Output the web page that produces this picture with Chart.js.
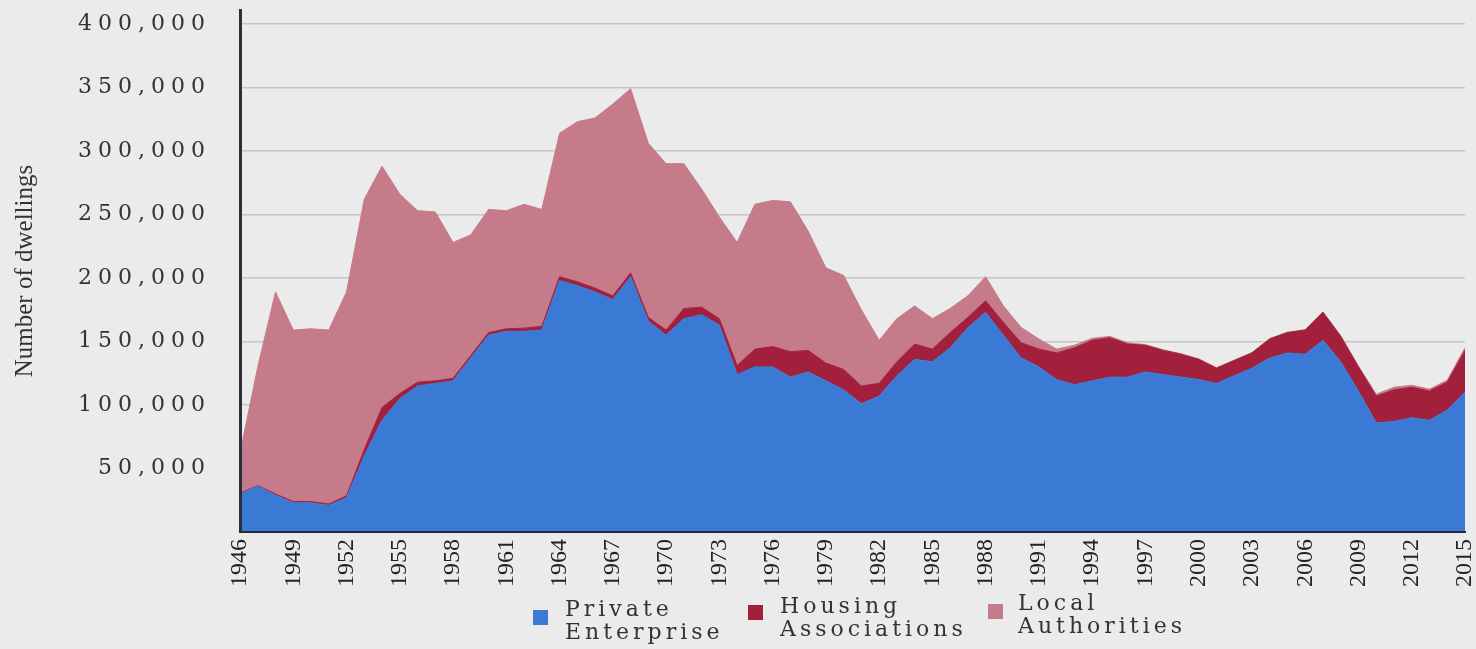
<!DOCTYPE html>
<html>
<head>
<meta charset="utf-8">
<script src="https://cdn.jsdelivr.net/npm/chart.js@4.4.1/dist/chart.umd.min.js"></script>
<style>
    html, body { margin: 0; padding: 0; background: #ebebeb; }
    #wrap { position: relative; width: 1476px; height: 649px; }
    .legend-item { position: absolute; font-family: "DejaVu Serif", serif; font-size: 22px;
        letter-spacing: 4px; line-height: 23px; color: #333; }
    .legend-box { position: absolute; width: 15px; height: 15px; }
</style>
</head>
<body>
<div id="wrap">
    <canvas id="housingChart" width="1476" height="649"></canvas>
    <div class="legend-box" style="left:533px;top:610px;background:#3a7ad4"></div>
    <div class="legend-item" style="left:565px;top:597px">Private<br>Enterprise</div>
    <div class="legend-box" style="left:748px;top:605px;background:#a3203c"></div>
    <div class="legend-item" style="left:780px;top:594px">Housing<br>Associations</div>
    <div class="legend-box" style="left:988px;top:604px;background:#c57b89"></div>
    <div class="legend-item" style="left:1018px;top:591px">Local<br>Authorities</div>
</div>
<script>
// Năm (trục x)
const years = [
    1946, 1947, 1948, 1949, 1950, 1951, 1952, 1953, 1954, 1955,
    1956, 1957, 1958, 1959, 1960, 1961, 1962, 1963, 1964, 1965,
    1966, 1967, 1968, 1969, 1970, 1971, 1972, 1973, 1974, 1975,
    1976, 1977, 1978, 1979, 1980, 1981, 1982, 1983, 1984, 1985,
    1986, 1987, 1988, 1989, 1990, 1991, 1992, 1993, 1994, 1995,
    1996, 1997, 1998, 1999, 2000, 2001, 2002, 2003, 2004, 2005,
    2006, 2007, 2008, 2009, 2010, 2011, 2012, 2013, 2014, 2015
];

const privateEnterprise = [
    30000, 36000, 29000, 23000, 23000, 21000, 27000, 60000, 88000, 105000,
    115000, 117000, 119000, 137000, 155000, 158000, 158000, 159000, 198000, 194000,
    189000, 183000, 201000, 166000, 155000, 168000, 171000, 163000, 124000, 130000,
    130000, 122000, 126000, 119000, 112000, 101000, 107000, 123000, 136000, 134000,
    145000, 161000, 173000, 155000, 137000, 130000, 120000, 116000, 119000, 122000,
    122000, 126000, 124000, 122000, 120000, 117000, 123000, 129000, 137000, 141000,
    140000, 151000, 134000, 111000, 86000, 87000, 90000, 88000, 96000, 110000
];

const housingAssociations = [
    500, 500, 1000, 1000, 1000, 1000, 1500, 5000, 10000, 4000,
    3000, 2000, 2000, 2000, 2000, 2000, 2500, 3000, 3000, 3000,
    3000, 3000, 3000, 3000, 4000, 8000, 6000, 5000, 7000, 14000,
    16000, 20000, 17000, 14000, 16000, 14000, 10000, 11000, 12000, 10000,
    12000, 8000, 9000, 10000, 12000, 14000, 21000, 29000, 32000, 31000,
    26000, 21000, 19000, 18000, 16000, 12000, 12000, 12000, 15000, 16000,
    19000, 22000, 20000, 19000, 21000, 25000, 24000, 23000, 22000, 33000
];

const localAuthorities = [
    31500, 93500, 159000, 135000, 136000, 137000, 160500, 197000, 190000, 157000,
    135000, 133000, 107000, 95000, 97000, 93000, 97500, 92000, 113000, 126000,
    134000, 151000, 145000, 137000, 131000, 114000, 93000, 80000, 97000, 114000,
    115000, 118000, 94000, 75000, 74000, 60000, 34000, 34000, 30000, 24000,
    19000, 17000, 19000, 13000, 12000, 8000, 3000, 2000, 1500, 1000,
    1000, 500, 500, 300, 300, 300, 300, 300, 300, 300,
    300, 300, 500, 500, 1500, 2000, 1500, 1500, 1500, 2000
];

// Các mốc trục y (0 không có nhãn)
const yTicks = [0, 50000, 100000, 150000, 200000, 250000, 300000, 350000, 400000];

const colors = {
    privateEnterprise: '#3a7ad4',
    housingAssociations: '#a3203c',
    localAuthorities: '#c57b89'
};

// Nhãn trục y: chữ giãn rộng và lùi xa trục như trong ảnh gốc
const spacedYLabels = {
    id: 'spacedYLabels',
    beforeDraw(chart) {
        const scale = chart.scales.y;
        if (scale._spaced) return;
        const original = scale.drawLabels.bind(scale);
        scale.drawLabels = function (area) {
            const ctx = this.ctx;
            ctx.save();
            ctx.letterSpacing = '6px';
            ctx.translate(-29, 0);
            original(area);
            ctx.restore();
        };
        scale._spaced = true;
    }
};

const ctx = document.getElementById('housingChart').getContext('2d');
new Chart(ctx, {
    type: 'line',
    data: {
        labels: years,
        datasets: [{
            label: 'Private Enterprise',
            data: privateEnterprise,
            backgroundColor: colors.privateEnterprise,
            borderColor: colors.privateEnterprise,
            borderWidth: 1,
            fill: 'origin'
        }, {
            label: 'Housing Associations',
            data: housingAssociations,
            backgroundColor: colors.housingAssociations,
            borderColor: colors.housingAssociations,
            borderWidth: 1,
            fill: '-1'
        }, {
            label: 'Local Authorities',
            data: localAuthorities,
            backgroundColor: colors.localAuthorities,
            borderColor: colors.localAuthorities,
            borderWidth: 1,
            fill: '-1'
        }]
    },
    options: {
        responsive: false,
        animation: false,
        layout: { padding: { left: 10, top: 10, right: 11, bottom: 0 } },
        elements: { point: { radius: 0 }, line: { tension: 0 } },
        plugins: {
            legend: { display: false },
            tooltip: { enabled: false }
        },
        scales: {
            x: {
                stacked: true,
                grid: { display: false, drawTicks: false },
                border: { color: '#1f2a44', width: 2, z: 1 },
                ticks: {
                    autoSkip: false,
                    maxRotation: 90,
                    minRotation: 90,
                    padding: 7,
                    color: '#222',
                    font: { family: 'Liberation Serif', size: 24, lineHeight: 1 },
                    callback: (value, index) => index % 3 === 0 ? years[index] : ''
                },
                afterFit: scale => {
                    scale.height = 117;
                    scale.paddingLeft = 0;
                    scale.paddingRight = 0;
                }
            },
            y: {
                stacked: true,
                min: 0,
                max: 411000,
                border: { color: '#2b2f3a', width: 3, z: 1 },
                grid: {
                    drawTicks: false,
                    color: c => c.tick.value > 0 ? '#c6c6c6' : 'rgba(0,0,0,0)',
                    lineWidth: 1.5
                },
                ticks: {
                    padding: 0,
                    color: '#333',
                    font: { family: 'DejaVu Serif', size: 22, lineHeight: 0.8 },
                    callback: value => value > 0 ? value.toLocaleString('en-US') : ''
                },
                afterBuildTicks: scale => {
                    scale.ticks = yTicks.map(v => ({ value: v }));
                },
                title: {
                    display: true,
                    text: 'Number of dwellings',
                    color: '#333',
                    font: { family: 'Liberation Serif', size: 25 },
                    padding: { top: 0, bottom: 10 }
                },
                afterFit: scale => { scale.width = 230; }
            }
        }
    },
    plugins: [spacedYLabels]
});
</script>
</body>
</html>
